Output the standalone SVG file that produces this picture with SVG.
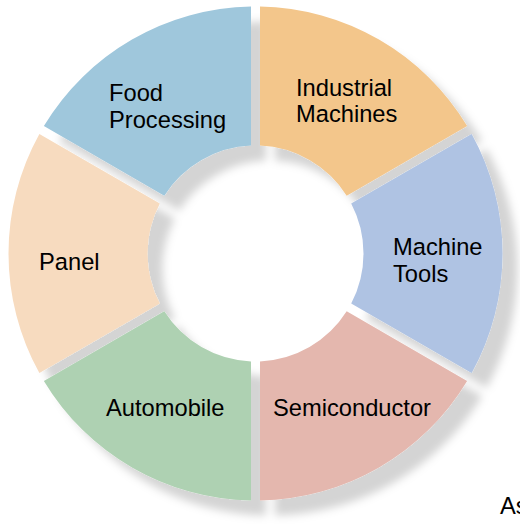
<svg xmlns="http://www.w3.org/2000/svg" width="520" height="525" viewBox="0 0 520 525">
  <defs>
    <filter id="shadow" x="-10%" y="-10%" width="130%" height="130%">
      <feGaussianBlur in="SourceAlpha" stdDeviation="4.5" result="b"/>
      <feOffset in="b" dx="15" dy="15" result="o"/>
      <feFlood flood-color="#000" flood-opacity="0.17"/>
      <feComposite in2="o" operator="in" result="s"/>
      <feMerge>
        <feMergeNode in="s"/>
        <feMergeNode in="SourceGraphic"/>
      </feMerge>
    </filter>
  </defs>
  <style>
    text { font-family: "Liberation Sans", Arial, Helvetica, sans-serif; font-size: 23.7px; fill: #000; }
  </style>
  <rect width="520" height="525" fill="#fff"/>
  <g id="ring" filter="url(#shadow)">
    <g id="industrial-machines">
      <path d="M 260,6.541 A 247 247 0 0 1 467.122,126.123 L 346.699,195.650 A 108 108 0 0 0 260,145.594 Z" fill="#f3c68b"/>
    </g>
    <g id="machine-tools">
      <path d="M 471.622,133.917 A 247 247 0 0 1 471.622,373.083 L 351.199,303.556 A 108 108 0 0 0 351.199,203.444 Z" fill="#afc3e3"/>
    </g>
    <g id="semiconductor">
      <path d="M 467.122,380.877 A 247 247 0 0 1 260,500.459 L 260,361.406 A 108 108 0 0 0 346.699,311.350 Z" fill="#e4b7ae"/>
    </g>
    <g id="automobile">
      <path d="M 251,500.459 A 247 247 0 0 1 43.878,380.877 L 164.301,311.350 A 108 108 0 0 0 251,361.406 Z" fill="#aed1b2"/>
    </g>
    <g id="panel">
      <path d="M 39.378,373.083 A 247 247 0 0 1 39.378,133.917 L 159.801,203.444 A 108 108 0 0 0 159.801,303.556 Z" fill="#f7dbbf"/>
    </g>
    <g id="food-processing">
      <path d="M 43.878,126.123 A 247 247 0 0 1 251,6.541 L 251,145.594 A 108 108 0 0 0 164.301,195.650 Z" fill="#9fc7dc"/>
    </g>
  </g>
  <g id="labels">
    <text x="296" y="96">Industrial</text>
    <text x="296" y="122">Machines</text>
    <text x="393" y="255">Machine</text>
    <text x="393" y="282">Tools</text>
    <text x="273" y="416">Semiconductor</text>
    <text x="106" y="416">Automobile</text>
    <text x="39" y="270">Panel</text>
    <text x="109" y="101">Food</text>
    <text x="109" y="128">Processing</text>
    <text x="500" y="514">As</text>
  </g>
</svg>
